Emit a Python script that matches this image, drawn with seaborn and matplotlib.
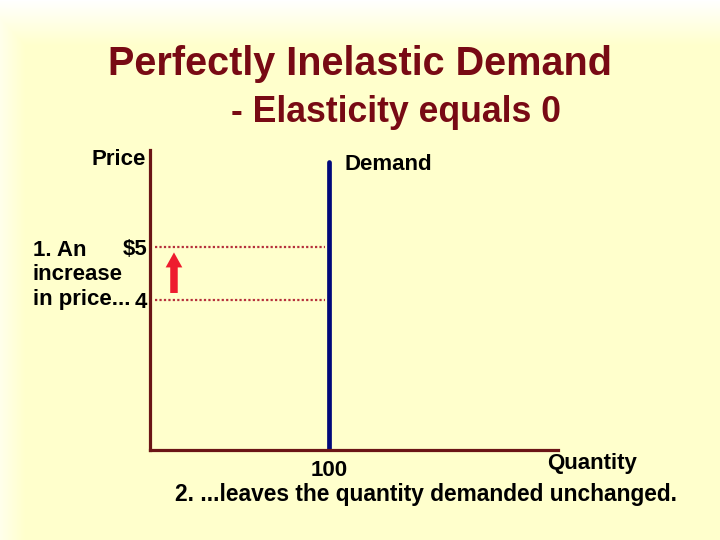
import numpy as np
import matplotlib
matplotlib.use("Agg")
import matplotlib.pyplot as plt
import seaborn as sns

# chart values
prices = [4, 5]                    # price before / after the increase
price_labels = ["4", "$5"]
quantity = 100                     # quantity demanded stays the same
quantity_labels = ["100"]
demand_price_span = [1.17, 6.6]    # vertical demand curve, bottom to top
arrow_span = [4.08, 4.95]          # red arrow, price going up
arrow_q = 13.4

sns.set_theme(style="white")
plt.rcParams['font.family'] = ['Liberation Sans', 'DejaVu Sans']
plt.rcParams['text.color'] = 'black'
plt.rcParams['font.weight'] = 'bold'

fig = plt.figure(figsize=(7.2, 5.4), dpi=100)

# pale yellow slide background, fading to white at the top and left edge
bg = fig.add_axes([0, 0, 1, 1], zorder=-10)
h, w = 540, 720
yy, xx = np.mgrid[0:h, 0:w]
fade = np.clip(1 - yy / 45.0, 0, 1)
fade = np.maximum(fade, np.clip(1 - xx / 25.0, 0, 1) * 0.6)
yellow = np.array([1.0, 1.0, 0.80])
img = yellow[None, None, :] * (1 - fade[..., None]) + fade[..., None]
bg.imshow(img, aspect='auto', extent=[0, 1, 0, 1])
bg.set_axis_off()

ax = fig.add_axes([150 / 720, 1 - 450 / 540, 408 / 720, 300 / 540])
ax.patch.set_alpha(0)
ax.set_xlim(0, 228)
ax.set_ylim(1.17, 6.83)

# demand curve
sns.lineplot(x=[quantity, quantity], y=demand_price_span, ax=ax,
             color='#00087a', linewidth=3.4, estimator=None, sort=False)

# dotted price guides
ax.hlines(prices, 3, quantity - 2, colors='#b5303c',
          linestyles=(0, (1, 1)), linewidth=1.6)

# arrow showing the increase in price
ax.annotate('', xy=(arrow_q, arrow_span[1]), xytext=(arrow_q, arrow_span[0]),
            arrowprops=dict(arrowstyle='simple,head_length=0.9,head_width=1.0,tail_width=0.45',
                            mutation_scale=12, fc='#ee1c2e', ec='none'))

for s in ['top', 'right']:
    ax.spines[s].set_visible(False)
for s in ['left', 'bottom']:
    ax.spines[s].set_color('#6b1515')
    ax.spines[s].set_linewidth(2.3)

fs = 16
ax.set_yticks(prices, price_labels, fontweight='bold')
ax.set_xticks([quantity], quantity_labels, fontweight='bold')
ax.tick_params(length=0, labelsize=fs, labelcolor='black')
ax.tick_params(axis='y', pad=2)
ax.tick_params(axis='x', pad=7)

title_c = '#780a14'
fig.text(360 / 720, 1 - 64 / 540, 'Perfectly Inelastic Demand', ha='center', va='center',
         fontsize=28.5, fontweight='bold', color=title_c)
fig.text(396 / 720, 1 - 113 / 540, '- Elasticity equals 0', ha='center', va='center',
         fontsize=25.7, fontweight='bold', color=title_c)

fig.text(146 / 720, 1 - 159 / 540, 'Price', ha='right', va='center', fontsize=fs)
fig.text(344 / 720, 1 - 164 / 540, 'Demand', ha='left', va='center', fontsize=fs)
fig.text(33 / 720, 1 - 251 / 540, '1. An', ha='left', va='center', fontsize=fs)
fig.text(33 / 720, 1 - 274 / 540, 'increase', ha='left', va='center', fontsize=fs)
fig.text(33 / 720, 1 - 299 / 540, 'in price...', ha='left', va='center', fontsize=fs)
fig.text(547 / 720, 1 - 464 / 540, 'Quantity', ha='left', va='center', fontsize=fs)
fig.text(175 / 720, 1 - 494 / 540, '2. ...leaves the quantity demanded unchanged.',
         ha='left', va='center', fontsize=16.4)

fig.savefig('out.png', dpi=100)
